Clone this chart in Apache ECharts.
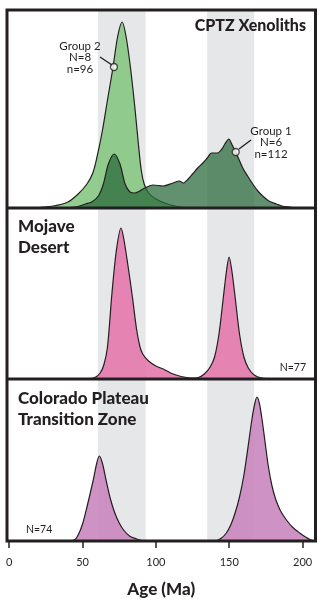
<!DOCTYPE html>
<html><head><meta charset="utf-8">
<script src="https://cdn.jsdelivr.net/npm/echarts@6/dist/echarts.min.js"></script>
<style>html,body{margin:0;padding:0;background:#fff}#c{width:325px;height:600px}</style>
</head><body><div id="c"></div>
<script>
// ---- data ----
const tickLabels = [0, 50, 100, 150, 200];
const bands = [[60.5, 93], [135, 167]];

const group2Age  = [15,30,40,47,53,57,60,63.5,67,70.7,74,77,79.6,82.7,85.7,88,90,92,95,100,106,113,122];
const group2Dens = [0,2,6,14,24,35,52,77,108,140,172,186,172,140,100,65,38,24,15,9,5,2,0];

const group1Age  = [35,45,48,52,56.2,60.8,64.2,67.6,71.6,75.5,79,82.3,85.7,89,92.5,98,105,111.6,116,118.6,122,125,128.5,132,135,137.9,142,145,147,149.7,152,154.4,156.8,159.2,162.5,166,169.5,172.8,177,182,186,191,198];
const group1Dens = [0,1,2,4,6,12,24,44,54,44,24,16,15,17,20,23,22,25,27,25,29,34,40,45,50,55,55,59,64,69,63,56,48,40,32,24,17,12,7,4,2,1,0];

const mojaveAge  = [40,55,59,62,64.5,67,70,73,76.2,78,80.7,83.9,86.8,89,91,95,100,105,110,116,121,125,129,133,137,140,143,146,148.3,149.9,151.6,154,157,160,163,167,172,180];
const mojaveDens = [0,0.3,2,6,14,32,85,128,151,141,116,83,50,33,25,18,13,10,6,3,1.5,0.8,1.5,5,12,22,45,82,110,122,110,82,45,22,11,4,1,0];

const cptzAge  = [35,44.3,47,50,53,57.3,59.7,61.4,63.5,66,69,72,75,78,82,87,92,140,144.7,148,151,154,157,160,163,165.5,167.5,168.9,170.5,172.5,174.5,176.5,179,181.6,185,189,193,198,202,205.8,208.8];
const cptzDens = [0,1,6,17,34,61,78,85,78,61,42,28,18,11,5,2,0,0,3,8,16,28,44,66,96,122,138,144,138,120,98,76,56,42,30,21,14,8,4,1,0];

const annotations = [
  {age: 71.4, dens: 141, text: 'Group 2\nN=8\nn=96'},
  {age: 154.4, dens: 56, text: 'Group 1\nN=6\nn=112'}
];
const panelTitles = ['CPTZ Xenoliths', 'Mojave\nDesert', 'Colorado Plateau\nTransition Zone'];
const panelCounts = ['', 'N=77', 'N=74'];

// ---- layout ----
const INK = '#231f20';
const L = 7, R = 315.5;
const panels = [{top: 10, bottom: 208}, {top: 208, bottom: 379}, {top: 379, bottom: 541}];
const XMIN = -1.5, XMAX = 208.8;
const FONT = 'Lato';

function pairs(a, d) { return a.map((x, i) => [x, d[i]]); }

const grids = panels.map(p => ({left: L, top: p.top, width: R - L, height: p.bottom - p.top, containLabel: false}));
const xAxes = panels.map((p, i) => {
  const bottom = i === 2;
  return {
    type: 'value', gridIndex: i, min: XMIN, max: XMAX,
    splitLine: {show: false},
    axisLine: {show: false},
    axisTick: bottom ? {show: true, customValues: tickLabels, length: 7, lineStyle: {color: INK, width: 1.5}} : {show: false},
    axisLabel: bottom ? {show: true, customValues: tickLabels, fontSize: 11, color: INK, fontFamily: FONT, margin: 16} : {show: false},
    name: bottom ? 'Age (Ma)' : '',
    nameLocation: 'middle', nameGap: 40,
    nameTextStyle: {fontSize: 17, fontWeight: 900, color: INK, fontFamily: FONT}
  };
});
const yAxes = panels.map((p, i) => ({type: 'value', gridIndex: i, min: 0, max: p.bottom - p.top, show: false}));

const bandData = bands.map(b => [{xAxis: b[0]}, {xAxis: b[1]}]);
function bandSeries(i) {
  return {type: 'line', xAxisIndex: i, yAxisIndex: i, data: [], z: 1, silent: true,
    markArea: {silent: true, itemStyle: {color: '#e6e7e8'}, data: bandData}};
}
function areaSeries(i, a, d, color, opacity, z) {
  return {type: 'line', xAxisIndex: i, yAxisIndex: i, data: pairs(a, d), smooth: 0.3,
    symbol: 'none', z: z, silent: true,
    lineStyle: {color: INK, width: 1.2},
    areaStyle: {color: color, opacity: opacity}};
}

const series = [
  bandSeries(0), bandSeries(1), bandSeries(2),
  areaSeries(0, group2Age, group2Dens, '#86c683', 0.9, 2),
  areaSeries(0, group1Age, group1Dens, '#2a6a3b', 0.74, 3),
  areaSeries(1, mojaveAge, mojaveDens, '#e57cae', 0.92, 2),
  areaSeries(2, cptzAge, cptzDens, '#ca86bf', 0.9, 2),
  {type: 'scatter', xAxisIndex: 0, yAxisIndex: 0, z: 6, symbolSize: 7, silent: true,
   data: annotations.map(a => [a.age, a.dens]),
   itemStyle: {color: '#fff', borderColor: INK, borderWidth: 1.3}}
];

const graphic = [
  {type: 'rect', z: 100, shape: {x: L, y: panels[0].top, width: R - L, height: panels[2].bottom - panels[0].top},
   style: {fill: null, stroke: INK, lineWidth: 3}},
  {type: 'line', z: 100, shape: {x1: L, y1: panels[1].top, x2: R, y2: panels[1].top}, style: {stroke: INK, lineWidth: 3}},
  {type: 'line', z: 100, shape: {x1: L, y1: panels[2].top, x2: R, y2: panels[2].top}, style: {stroke: INK, lineWidth: 3}},
  {type: 'text', z: 100, x: 306, y: 18, style: {text: panelTitles[0], textAlign: 'right', fontSize: 16, fontWeight: 900, fill: INK, fontFamily: FONT}},
  {type: 'text', z: 100, x: 18, y: 216, style: {text: panelTitles[1], textAlign: 'left', fontSize: 17, fontWeight: 900, fill: INK, fontFamily: FONT, lineHeight: 21}},
  {type: 'text', z: 100, x: 18, y: 388, style: {text: panelTitles[2], textAlign: 'left', fontSize: 17, fontWeight: 900, fill: INK, fontFamily: FONT, lineHeight: 21}},
  {type: 'text', z: 100, x: 306, y: 362, style: {text: panelCounts[1], textAlign: 'right', fontSize: 10.5, fill: INK, fontFamily: FONT}},
  {type: 'text', z: 100, x: 26, y: 524, style: {text: panelCounts[2], textAlign: 'left', fontSize: 10.5, fill: INK, fontFamily: FONT}},
  {type: 'text', z: 100, x: 80, y: 40, style: {text: annotations[0].text, textAlign: 'center', fontSize: 11.5, fill: INK, fontFamily: FONT, lineHeight: 11.8}},
  {type: 'text', z: 100, x: 271, y: 125, style: {text: annotations[1].text, textAlign: 'center', fontSize: 11.5, fill: INK, fontFamily: FONT, lineHeight: 11.8}},
  {type: 'line', z: 100, shape: {x1: 100, y1: 57, x2: 112, y2: 65}, style: {stroke: INK, lineWidth: 1.3}},
  {type: 'line', z: 100, shape: {x1: 251, y1: 140, x2: 239, y2: 149}, style: {stroke: INK, lineWidth: 1.3}}
];

const chart = echarts.init(document.getElementById('c'), null, {renderer: 'canvas'});
chart.setOption({
  animation: false,
  grid: grids, xAxis: xAxes, yAxis: yAxes, series: series, graphic: graphic
});
</script>
</body></html>
